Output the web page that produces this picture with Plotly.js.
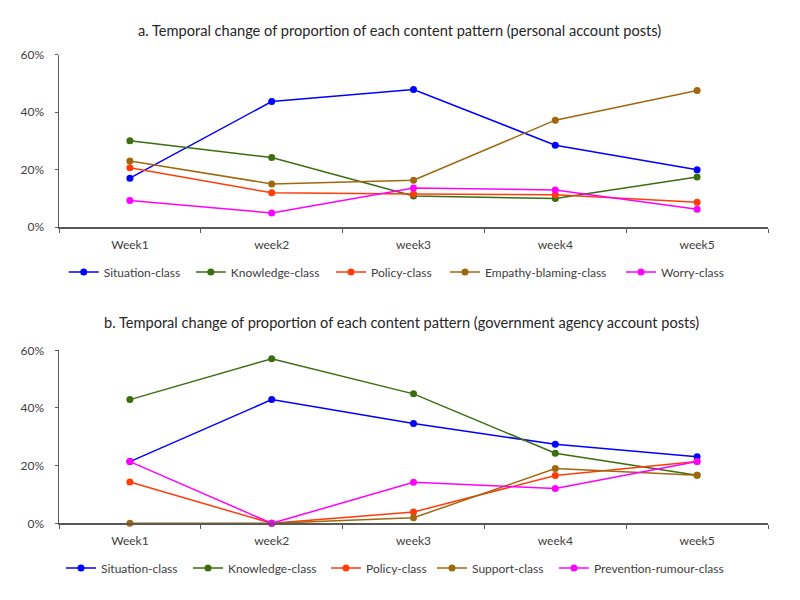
<!DOCTYPE html>
<html>
<head>
<meta charset="utf-8">
<script src="https://cdn.plot.ly/plotly-3.0.1.min.js"></script>
<style>html,body{margin:0;padding:0;background:#fff;}#chart{width:800px;height:600px;}</style>
</head>
<body>
<div id="chart"></div>
<script>
// Categories
const weeks = ["Week1", "week2", "week3", "week4", "week5"];

// Panel a: personal account posts (%)
const personalNames = ["Situation-class", "Knowledge-class", "Policy-class", "Empathy-blaming-class", "Worry-class"];
const personalSituation = [17.0, 43.7, 47.9, 28.5, 19.9];
const personalKnowledge = [30.0, 24.2, 10.8, 9.9, 17.4];
const personalPolicy = [20.6, 11.9, 11.5, 11.2, 8.6];
const personalEmpathy = [23.0, 15.0, 16.3, 37.2, 47.5];
const personalWorry = [9.2, 4.9, 13.6, 12.9, 6.2];

// Panel b: government agency account posts (%)
const govNames = ["Situation-class", "Knowledge-class", "Policy-class", "Support-class", "Prevention-rumour-class"];
const govSituation = [21.4, 42.9, 34.6, 27.4, 23.1];
const govKnowledge = [42.9, 57.1, 44.9, 24.3, 16.7];
const govPolicy = [14.3, 0.0, 3.9, 16.6, 21.4];
const govSupport = [0.0, 0.0, 1.9, 19.0, 16.7];
const govPrevention = [21.4, 0.0, 14.2, 12.1, 21.4];

const titleA = "a. Temporal change of proportion of each content pattern (personal account posts)";
const titleB = "b. Temporal change of proportion of each content pattern (government agency account posts)";

const colors = ["#0000FF", "#3A6E0E", "#FF3C0A", "#A0680E", "#FF00FF"];
const FONT = "Lato, 'Liberation Sans', sans-serif";

// legend entry left edges (pixels from page left), one legend per entry
const legendLeftA = [63.7, 190.8, 331, 445, 621];
const legendLeftB = [61, 188, 326, 432, 554];

const ML = 59, MR = 32, W = 800, H = 600;
const plotW = W - ML - MR;
function px2paperX(p) { return (p - ML) / plotW; }
function px2paperY(p) { return (H - p) / H; }

const personalSeries = [personalSituation, personalKnowledge, personalPolicy, personalEmpathy, personalWorry];
const govSeries = [govSituation, govKnowledge, govPolicy, govSupport, govPrevention];

const data = [];
function mk(name, y, i, xa, ya, leg) {
  return {
    type: "scatter", mode: "lines+markers", name: name,
    x: weeks, y: y, xaxis: xa, yaxis: ya, legend: leg,
    line: {color: colors[i], width: 1.5},
    marker: {color: colors[i], size: 7},
    cliponaxis: false
  };
}
personalSeries.forEach((s, i) => data.push(mk(personalNames[i], s, i, "x", "y", i === 0 ? "legend" : "legend" + (i + 1))));
govSeries.forEach((s, i) => data.push(mk(govNames[i], s, i, "x2", "y2", "legend" + (i + 6))));

const axisColor = "#595959";
const xBase = {
  type: "category", range: [-0.5, 4.5], tickson: "boundaries", ticks: "outside", ticklen: 4,
  tickcolor: axisColor, showline: true, linecolor: axisColor, linewidth: 1.5,
  showgrid: false, zeroline: false, tickfont: {size: 12, color: "#404040", family: FONT},
  ticklabelstandoff: 6, fixedrange: true
};
const yBase = {
  range: [0, 60], dtick: 20, tick0: 0, ticksuffix: "%", ticks: "outside", ticklen: 3,
  tickcolor: axisColor, showline: true, linecolor: axisColor, linewidth: 1.5,
  showgrid: false, zeroline: false, tickfont: {size: 12, color: "#404040", family: FONT},
  ticklabelstandoff: 8, fixedrange: true
};

const legBase = {
  orientation: "h", xref: "paper", yref: "paper", xanchor: "left", yanchor: "middle",
  font: {size: 12, color: "#404040", family: FONT}, bgcolor: "rgba(0,0,0,0)",
  itemwidth: 30, tracegroupgap: 0
};

const layout = {
  width: W, height: H,
  margin: {l: ML, r: MR, t: 0, b: 0},
  paper_bgcolor: "#fff", plot_bgcolor: "#fff",
  font: {family: FONT, color: "#404040"},
  showlegend: true,
  xaxis: Object.assign({}, xBase, {domain: [0, 1], anchor: "y"}),
  yaxis: Object.assign({}, yBase, {domain: [px2paperY(227), px2paperY(54.7)], anchor: "x"}),
  xaxis2: Object.assign({}, xBase, {domain: [0, 1], anchor: "y2"}),
  yaxis2: Object.assign({}, yBase, {domain: [px2paperY(523.3), px2paperY(350.3)], anchor: "x2"}),
  annotations: [
    {text: titleA, xref: "paper", yref: "paper", x: px2paperX(399), y: px2paperY(30), showarrow: false,
     xanchor: "center", yanchor: "middle", font: {size: 14.6, color: "#262626", family: FONT}},
    {text: titleB, xref: "paper", yref: "paper", x: px2paperX(401), y: px2paperY(322), showarrow: false,
     xanchor: "center", yanchor: "middle", font: {size: 14.6, color: "#262626", family: FONT}}
  ]
};
legendLeftA.forEach((p, i) => {
  const key = i === 0 ? "legend" : "legend" + (i + 1);
  layout[key] = Object.assign({}, legBase, {x: px2paperX(p), y: px2paperY(272)});
});
legendLeftB.forEach((p, i) => {
  layout["legend" + (i + 6)] = Object.assign({}, legBase, {x: px2paperX(p), y: px2paperY(568)});
});

Plotly.newPlot("chart", data, layout, {displayModeBar: false, staticPlot: true});
</script>
</body>
</html>
